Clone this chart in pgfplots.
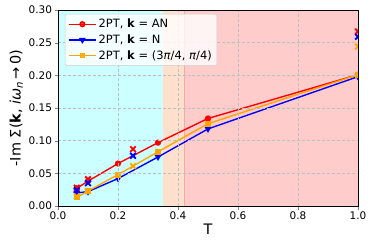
\documentclass[border=0pt]{standalone}
\usepackage{fontspec}
\setmainfont{DejaVu Sans}
\usepackage{pgfplots}
\pgfplotsset{compat=1.18}
\definecolor{mred}{RGB}{255,0,0}
\definecolor{mblue}{RGB}{0,0,255}
\definecolor{morange}{RGB}{255,165,0}
\definecolor{bgcyan}{RGB}{204,255,255}
\definecolor{bgpeach}{RGB}{255,224,204}
\definecolor{bgred}{RGB}{255,204,204}
\begin{document}
\begin{tikzpicture}
\begin{axis}[
  scale only axis,
  width=300bp, height=196bp,
  xmin=0, xmax=1, ymin=0, ymax=0.3,
  xtick={0,0.2,0.4,0.6,0.8,1.0},
  ytick={0,0.05,0.1,0.15,0.2,0.25,0.3},
  xticklabel style={yshift=1bp, /pgf/number format/.cd,fixed,fixed zerofill,precision=1},
  yticklabel style={xshift=1bp, /pgf/number format/.cd,fixed,fixed zerofill,precision=2},
  /pgf/number format/assume math mode=true,
  tick label style={font=\fontsize{10.5}{12}\selectfont},
  tick align=outside, tick pos=left,
  major tick length=3.5bp,
  grid=major,
  grid style={densely dashed, color=black!25, line width=0.5pt},
  axis on top,
  axis line style={line width=0.6pt},
  clip marker paths=true,
  xlabel={T},
  ylabel={-Im Σ(\textbf{k}, \textit{iω}\textsubscript{\textit{n}}\,→\,0)},
  label style={font=\fontsize{14.5}{16}\selectfont},
  xlabel style={yshift=3bp},
  ylabel style={yshift=-1bp},
  legend style={at={(0.023,0.98)}, anchor=north west, font=\fontsize{11.5}{13.5}\selectfont,
    draw=black!20, fill=white, fill opacity=0.8, text opacity=1, rounded corners=2pt,
    row sep=1.5pt, inner sep=3pt},
  legend cell align=left,
  legend image code/.code={\draw[mark repeat=2,mark phase=2] plot coordinates {(0cm,0cm) (0.48cm,0cm) (0.96cm,0cm)};},
]
\addplot[fill=bgcyan, draw=none, forget plot] coordinates {(0,0) (0.35,0) (0.35,0.3) (0,0.3)} -- cycle;
\addplot[fill=bgpeach, draw=none, forget plot] coordinates {(0.35,0) (0.42,0) (0.42,0.3) (0.35,0.3)} -- cycle;
\addplot[fill=bgred, draw=none, forget plot] coordinates {(0.42,0) (1,0) (1,0.3) (0.42,0.3)} -- cycle;
\addplot[color=bgred!80!red, line width=0.8pt, forget plot] coordinates {(0.42,0) (0.42,0.3)};

\addplot[color=mred, line width=1.4pt, mark=*, mark size=2.4pt] coordinates {
(0.0625,0.027) (0.1,0.038) (0.2,0.065) (0.3333,0.097) (0.5,0.134) (1.0,0.201)};
\addlegendentry{2PT, \textbf{k} = AN}
\addplot[color=mblue, line width=1.4pt, mark=triangle*, mark options={rotate=180}, mark size=2.6pt] coordinates {
(0.0625,0.020) (0.1,0.022) (0.2,0.042) (0.3333,0.075) (0.5,0.118) (1.0,0.198)};
\addlegendentry{2PT, \textbf{k} = N}
\addplot[color=morange, line width=1.4pt, mark=square*, mark size=2.2pt] coordinates {
(0.0625,0.013) (0.1,0.023) (0.2,0.048) (0.3333,0.083) (0.5,0.126) (1.0,0.201)};
\addlegendentry{2PT, \textbf{k} = (3\textit{π}/4, \textit{π}/4)}

\addplot[color=mred, only marks, mark=x, mark size=4pt, line width=1.9pt, forget plot] coordinates {
(0.0625,0.028) (0.1,0.041) (0.25,0.087) (1.0,0.267)};
\addplot[color=mblue, only marks, mark=x, mark size=4pt, line width=1.9pt, forget plot] coordinates {
(0.0625,0.024) (0.1,0.035) (0.25,0.077) (1.0,0.259)};
\addplot[color=morange, only marks, mark=x, mark size=4pt, line width=1.9pt, forget plot] coordinates {
(0.0625,0.015) (0.1,0.023) (0.25,0.061) (1.0,0.244)};
\coordinate (bl) at (rel axis cs:0,0);
\coordinate (tr) at (rel axis cs:1,1);
\end{axis}
\pgfresetboundingbox
\path ([shift={(-58bp,-41bp)}]bl) rectangle ([shift={(16bp,10bp)}]tr);
\end{tikzpicture}
\end{document}
